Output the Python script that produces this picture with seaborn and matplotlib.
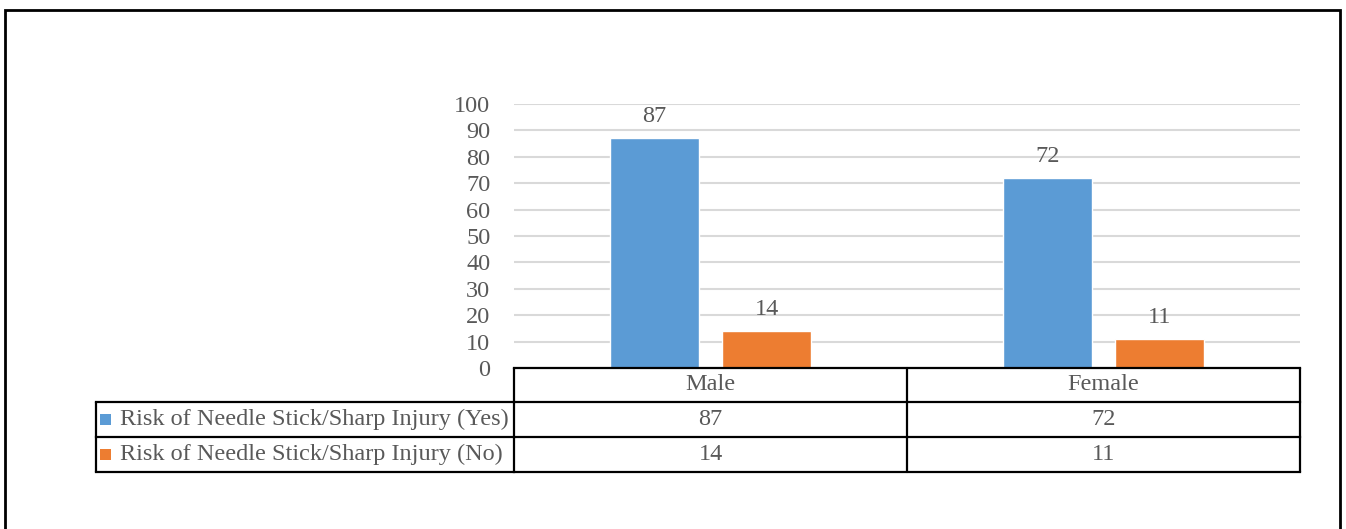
import matplotlib
matplotlib.use("Agg")
import matplotlib.pyplot as plt
from matplotlib.lines import Line2D
from matplotlib.patches import Rectangle
from matplotlib.transforms import blended_transform_factory
import pandas as pd
import seaborn as sns

# Data
genders = ["Male", "Female"]
series_names = ["Risk of Needle Stick/Sharp Injury (Yes)",
                "Risk of Needle Stick/Sharp Injury (No)"]
yes_counts = [87, 72]
no_counts = [14, 11]
y_ticks = [0, 10, 20, 30, 40, 50, 60, 70, 80, 90, 100]

colors = ["#5B9BD5", "#ED7D31"]
text_color = "#595959"
grid_color = "#D9D9D9"

sns.set_theme(style="white")
plt.rcParams["font.family"] = ["Liberation Serif", "DejaVu Serif"]

W, H = 1346, 529
fig = plt.figure(figsize=(W / 100, H / 100), dpi=100)


def fx(x):
    return x / W


def fy(y):
    return 1 - y / H


# Plot area
ax_l, ax_r, ax_t, ax_b = 514, 1300, 104, 368
ax = fig.add_axes([fx(ax_l), fy(ax_b), fx(ax_r - ax_l), (ax_b - ax_t) / H])

df = pd.DataFrame({
    "Gender": genders * 2,
    "Series": [series_names[0]] * 2 + [series_names[1]] * 2,
    "Count": yes_counts + no_counts,
})

sns.barplot(data=df, x="Gender", y="Count", hue="Series", order=genders,
            hue_order=series_names, palette=colors, width=0.57, gap=0.21,
            saturation=1, legend=False, ax=ax)

ax.set_xlim(-0.5, len(genders) - 0.5)
ax.set_ylim(0, 100)
ax.set_yticks(y_ticks)
ax.set_yticklabels([str(t) for t in y_ticks], fontsize=17.5, color=text_color)
ax.tick_params(axis="y", length=0, pad=17)
ax.set_xticks([])
ax.set_xlabel("")
ax.set_ylabel("")
for s in ax.spines.values():
    s.set_visible(False)
ax.yaxis.grid(True, color=grid_color, linewidth=1.5)
ax.set_axisbelow(True)

for cont in ax.containers:
    ax.bar_label(cont, fmt="%d", padding=8, fontsize=17.5, color=text_color)

# Data table below the plot area
bt = blended_transform_factory(ax.transData, fig.transFigure)
lw = 1.6
row_edges = [368, 402, 437, 472]
left_edge = 96
x_lo, x_hi = -0.5, len(genders) - 0.5


def hline_data(y):
    fig.add_artist(Line2D([x_lo, x_hi], [fy(y), fy(y)], transform=bt,
                          color="black", linewidth=lw, solid_capstyle="projecting"))


def hline_fig(x0, x1, y):
    fig.add_artist(Line2D([fx(x0), fx(x1)], [fy(y), fy(y)], transform=fig.transFigure,
                          color="black", linewidth=lw, solid_capstyle="projecting"))


hline_data(row_edges[0])
for y in row_edges[1:]:
    hline_data(y)
    hline_fig(left_edge, ax_l, y)

# vertical dividers
for i in range(len(genders) + 1):
    xv = x_lo + i
    fig.add_artist(Line2D([xv, xv], [fy(row_edges[0]), fy(row_edges[-1])], transform=bt,
                          color="black", linewidth=lw))
fig.add_artist(Line2D([fx(left_edge), fx(left_edge)], [fy(row_edges[1]), fy(row_edges[-1])],
                      transform=fig.transFigure, color="black", linewidth=lw))

# header row: categories
hy = (row_edges[0] + row_edges[1]) / 2
for i, g in enumerate(genders):
    fig.text(i, fy(hy), g, transform=bt, ha="center", va="center",
             fontsize=17.5, color=text_color)

# value rows with legend keys
for r, (name, vals) in enumerate(zip(series_names, [yes_counts, no_counts])):
    ymid = (row_edges[r + 1] + row_edges[r + 2]) / 2
    fig.add_artist(Rectangle((fx(100), fy(ymid + 5.5)), fx(11), 11 / H,
                             transform=fig.transFigure, facecolor=colors[r],
                             edgecolor="none"))
    fig.text(fx(120), fy(ymid), name, ha="left", va="center",
             fontsize=17.5, color=text_color)
    for i, v in enumerate(vals):
        fig.text(i, fy(ymid), str(v), transform=bt, ha="center", va="center",
                 fontsize=17.5, color=text_color)

# outer frame
fig.add_artist(Rectangle((fx(5), fy(560)), fx(1335), 550 / H,
                         transform=fig.transFigure, fill=False,
                         edgecolor="black", linewidth=2))

fig.savefig("out.png", dpi=100)
